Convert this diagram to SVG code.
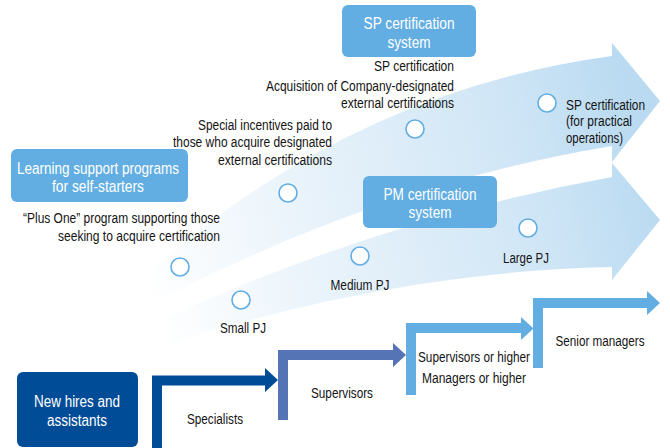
<svg xmlns="http://www.w3.org/2000/svg" width="670" height="448" viewBox="0 0 670 448">
<defs>
<linearGradient id="sweep" gradientUnits="userSpaceOnUse" x1="150" y1="300" x2="650" y2="160">
<stop offset="0" stop-color="#ffffff"/>
<stop offset="0.3" stop-color="#ebf4fb"/>
<stop offset="0.75" stop-color="#d0e6f6"/>
<stop offset="1" stop-color="#b9daf1"/>
</linearGradient>
<style>
.t{font-family:"Liberation Sans",Arial,sans-serif;font-size:14px;fill:#141414;}
.w{font-family:"Liberation Sans",Arial,sans-serif;font-size:16px;fill:#ffffff;text-anchor:middle;}
.m{text-anchor:middle;}
.e{text-anchor:end;}
.box{fill:#62aee3;}
.dot{fill:#ffffff;stroke:#62aee3;stroke-width:1.6;}
.sweep{fill:url(#sweep);}
</style>
</defs>
<rect width="670" height="448" fill="#ffffff"/>

<g id="sweep-arrows">
<path class="sweep" d="M130,290 Q339,93 612,56 L612,43 L660,101 L612,162 L612,146 Q379,184.5 150,305 Z"/>
<path class="sweep" d="M150,325 Q379,219 612,177 L612,163 L660,220 L612,280 L612,267 Q391.5,272 165,345 Z"/>
</g>

<g id="connectors">
<path fill="#004c97" d="M152,448 V375.5 H265 V368 L278,380 L265,392 V385.5 H162 V448 Z"/>
<path fill="#5574b5" d="M278,420 V350 H393 V343 L406,355 L393,367 V360 H288 V420 Z"/>
<path fill="#62aee3" d="M406,395 V323 H521 V317 L533.5,328.5 L521,340 V333 H416 V395 Z"/>
<path fill="#62aee3" d="M533,368 V298 H647 V291 L660,303 L647,315 V308 H543 V368 Z"/>
</g>

<g id="milestones">
<circle class="dot" cx="180" cy="267" r="9"/>
<circle class="dot" cx="288" cy="193" r="9"/>
<circle class="dot" cx="415" cy="129" r="9"/>
<circle class="dot" cx="547" cy="103" r="9"/>
<circle class="dot" cx="241" cy="300" r="9"/>
<circle class="dot" cx="360" cy="256" r="9"/>
<circle class="dot" cx="528" cy="228" r="9"/>
</g>

<g id="node-sp-system">
<rect class="box" x="342" y="5" width="134" height="52" rx="6"/>
<text class="w" x="409" y="29" textLength="91" lengthAdjust="spacingAndGlyphs">SP certification</text>
<text class="w" x="409" y="48" textLength="43" lengthAdjust="spacingAndGlyphs">system</text>
</g>

<g id="node-pm-system">
<rect class="box" x="363" y="176" width="134" height="52" rx="6"/>
<text class="w" x="430" y="200" textLength="93" lengthAdjust="spacingAndGlyphs">PM certification</text>
<text class="w" x="430" y="218" textLength="43" lengthAdjust="spacingAndGlyphs">system</text>
</g>

<g id="node-learning">
<rect class="box" x="11" y="149" width="177" height="53" rx="6"/>
<text class="w" x="98" y="174" textLength="162" lengthAdjust="spacingAndGlyphs">Learning support programs</text>
<text class="w" x="98" y="192" textLength="92" lengthAdjust="spacingAndGlyphs">for self-starters</text>
</g>

<g id="node-new-hires">
<rect x="17" y="372" width="121" height="75" rx="6" fill="#004c97"/>
<text class="w" x="77" y="407" textLength="86" lengthAdjust="spacingAndGlyphs">New hires and</text>
<text class="w" x="77" y="426" textLength="60" lengthAdjust="spacingAndGlyphs">assistants</text>
</g>

<g id="label-plus-one">
<text class="t e" x="220" y="223" textLength="197" lengthAdjust="spacingAndGlyphs">“Plus One” program supporting those</text>
<text class="t e" x="220" y="241" textLength="162" lengthAdjust="spacingAndGlyphs">seeking to acquire certification</text>
</g>

<g id="label-incentives">
<text class="t e" x="332" y="129.5" textLength="134" lengthAdjust="spacingAndGlyphs">Special incentives paid to</text>
<text class="t e" x="332" y="147" textLength="159" lengthAdjust="spacingAndGlyphs">those who acquire designated</text>
<text class="t e" x="332" y="164.5" textLength="114" lengthAdjust="spacingAndGlyphs">external certifications</text>
</g>

<g id="label-sp-cert">
<text class="t e" x="454" y="71" textLength="80" lengthAdjust="spacingAndGlyphs">SP certification</text>
<text class="t e" x="454" y="90.5" textLength="188" lengthAdjust="spacingAndGlyphs">Acquisition of Company-designated</text>
<text class="t e" x="454" y="107.5" textLength="113" lengthAdjust="spacingAndGlyphs">external certifications</text>
</g>

<g id="label-sp-practical">
<text class="t" x="566" y="109.5" textLength="79" lengthAdjust="spacingAndGlyphs">SP certification</text>
<text class="t" x="566" y="126" textLength="66" lengthAdjust="spacingAndGlyphs">(for practical</text>
<text class="t" x="566" y="142.5" textLength="57" lengthAdjust="spacingAndGlyphs">operations)</text>
</g>

<g id="label-pj">
<text class="t m" x="243" y="333" textLength="46" lengthAdjust="spacingAndGlyphs">Small PJ</text>
<text class="t m" x="360" y="290" textLength="59" lengthAdjust="spacingAndGlyphs">Medium PJ</text>
<text class="t m" x="526" y="263" textLength="46" lengthAdjust="spacingAndGlyphs">Large PJ</text>
</g>

<g id="label-ranks">
<text class="t m" x="215" y="424" textLength="56" lengthAdjust="spacingAndGlyphs">Specialists</text>
<text class="t m" x="342" y="398" textLength="62" lengthAdjust="spacingAndGlyphs">Supervisors</text>
<text class="t m" x="474" y="362" textLength="112" lengthAdjust="spacingAndGlyphs">Supervisors or higher</text>
<text class="t m" x="474" y="383" textLength="104" lengthAdjust="spacingAndGlyphs">Managers or higher</text>
<text class="t m" x="600" y="346" textLength="89" lengthAdjust="spacingAndGlyphs">Senior managers</text>
</g>
</svg>
